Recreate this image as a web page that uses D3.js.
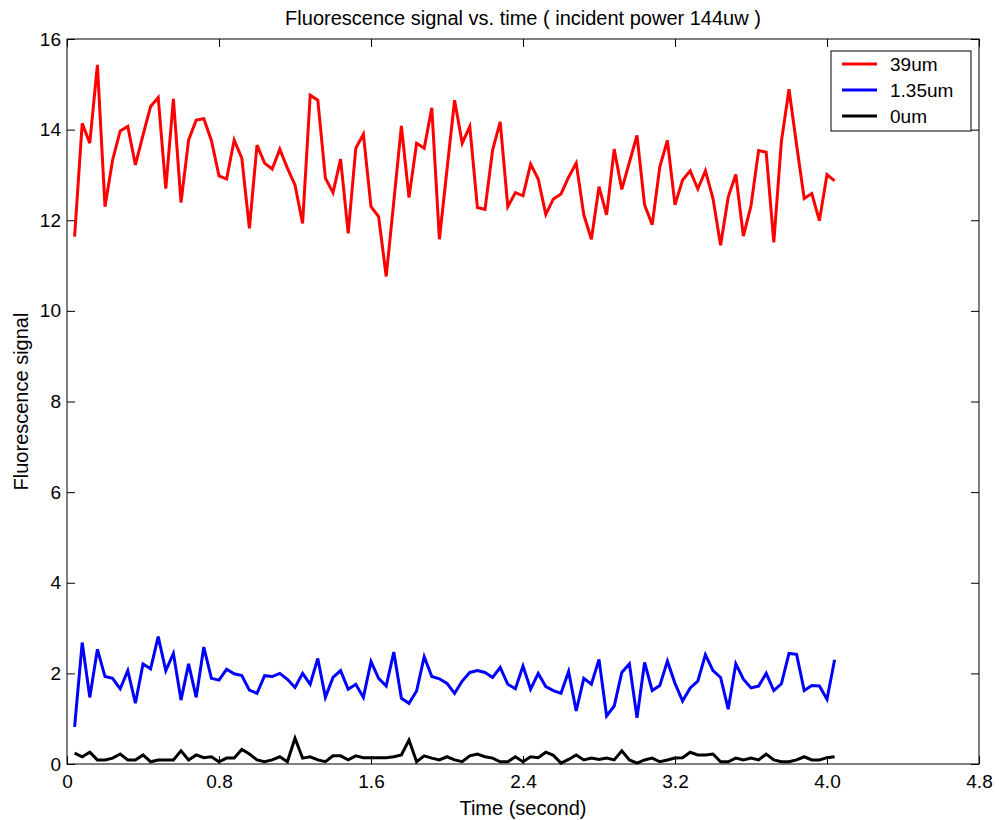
<!DOCTYPE html>
<html>
<head>
<meta charset="utf-8">
<script src="https://cdn.jsdelivr.net/npm/d3@7"></script>
<style>
  body { margin: 0; background: #fff; }
  svg text { font-family: "Liberation Sans", Arial, sans-serif; fill: #000; }
</style>
</head>
<body>
<svg id="chart" width="999" height="820"></svg>
<script>
// Fluorescence signal sampled every 0.04 s for three probe depths
const sampleStep = 0.04;
const sampleCount = 101;

const signal39um = [
  11.64, 14.14, 13.70, 15.43, 12.30, 13.33, 13.97, 14.07, 13.22, 13.88,
  14.51, 14.71, 12.70, 14.68, 12.39, 13.77, 14.21, 14.24, 13.76, 12.98,
  12.91, 13.77, 13.37, 11.82, 13.66, 13.26, 13.13, 13.57, 13.15, 12.78,
  11.93, 14.76, 14.65, 12.93, 12.61, 13.35, 11.71, 13.59, 13.90, 12.30,
  12.08, 10.76, 12.41, 14.08, 12.50, 13.70, 13.59, 14.48, 11.58, 13.12,
  14.65, 13.70, 14.07, 12.28, 12.24, 13.55, 14.17, 12.30, 12.61, 12.54,
  13.24, 12.91, 12.13, 12.47, 12.58, 12.95, 13.26, 12.12, 11.58, 12.74,
  12.12, 13.57, 12.68, 13.28, 13.87, 12.34, 11.90, 13.18, 13.76, 12.34,
  12.89, 13.09, 12.69, 13.09, 12.48, 11.45, 12.51, 13.01, 11.65, 12.32,
  13.54, 13.50, 11.51, 13.74, 14.89, 13.66, 12.48, 12.59, 11.99, 13.01,
  12.87
];

const signal135um = [
  0.82, 2.68, 1.47, 2.53, 1.93, 1.89, 1.66, 2.06, 1.34, 2.21,
  2.10, 2.81, 2.06, 2.44, 1.41, 2.21, 1.47, 2.58, 1.89, 1.85,
  2.09, 1.99, 1.95, 1.63, 1.56, 1.95, 1.93, 2.00, 1.87, 1.69,
  2.00, 1.76, 2.33, 1.47, 1.91, 2.06, 1.65, 1.76, 1.47, 2.26,
  1.89, 1.72, 2.47, 1.45, 1.34, 1.61, 2.37, 1.93, 1.88, 1.78,
  1.56, 1.83, 2.02, 2.06, 2.02, 1.91, 2.13, 1.76, 1.66, 2.16,
  1.65, 2.00, 1.71, 1.62, 1.56, 2.04, 1.17, 1.89, 1.76, 2.31,
  1.06, 1.28, 2.02, 2.21, 1.02, 2.24, 1.62, 1.73, 2.27, 1.78,
  1.39, 1.68, 1.83, 2.41, 2.06, 1.91, 1.21, 2.21, 1.87, 1.68,
  1.72, 2.00, 1.62, 1.77, 2.44, 2.42, 1.62, 1.73, 1.72, 1.43,
  2.30
];

const signal0um = [
  0.24, 0.16, 0.26, 0.09, 0.09, 0.13, 0.22, 0.09, 0.09, 0.20,
  0.05, 0.09, 0.09, 0.09, 0.29, 0.09, 0.20, 0.14, 0.16, 0.05,
  0.13, 0.13, 0.32, 0.22, 0.09, 0.05, 0.09, 0.16, 0.05, 0.57,
  0.13, 0.16, 0.09, 0.05, 0.18, 0.18, 0.09, 0.18, 0.14, 0.14,
  0.14, 0.14, 0.16, 0.20, 0.53, 0.05, 0.18, 0.13, 0.09, 0.16,
  0.09, 0.05, 0.18, 0.22, 0.16, 0.13, 0.05, 0.05, 0.16, 0.05,
  0.16, 0.14, 0.26, 0.19, 0.02, 0.10, 0.20, 0.09, 0.13, 0.10,
  0.13, 0.09, 0.29, 0.09, 0.02, 0.09, 0.13, 0.05, 0.09, 0.13,
  0.14, 0.26, 0.20, 0.20, 0.22, 0.05, 0.05, 0.13, 0.09, 0.13,
  0.09, 0.22, 0.09, 0.05, 0.05, 0.09, 0.16, 0.09, 0.09, 0.14,
  0.16
];

const seriesNames = ["39um", "1.35um", "0um"];
const seriesColors = ["#ff0000", "#0000ff", "#000000"];
const xTicks = [0, 0.8, 1.6, 2.4, 3.2, 4.0, 4.8];
const xTickLabels = ["0", "0.8", "1.6", "2.4", "3.2", "4.0", "4.8"];
const yTicks = [0, 2, 4, 6, 8, 10, 12, 14, 16];

const timeValues = d3.range(sampleCount).map(i => +((i + 1) * sampleStep).toFixed(2));
const seriesData = [signal39um, signal135um, signal0um];

const svg = d3.select("#chart");
const plotLeft = 67, plotRight = 979, plotTop = 39, plotBottom = 764;

const x = d3.scaleLinear().domain([0, 4.8]).range([plotLeft, plotRight]);
const y = d3.scaleLinear().domain([0, 16]).range([plotBottom, plotTop]);

const tickFont = 19;
const labelFont = 20;
const tickLen = 8;

// Data lines
const line = d3.line().x((d, i) => x(timeValues[i])).y(d => y(d));
seriesData.forEach((vals, k) => {
  svg.append("path")
    .datum(vals)
    .attr("d", line)
    .attr("fill", "none")
    .attr("stroke", seriesColors[k])
    .attr("stroke-width", 3)
    .attr("stroke-linejoin", "miter");
});

// Axes with inward ticks on all four sides
const axisStyle = g => {
  g.select(".domain").remove();
  g.selectAll(".tick line").attr("stroke", "#000").attr("stroke-width", 1);
  g.selectAll(".tick text").attr("font-size", tickFont).attr("font-family", "Liberation Sans, Arial, sans-serif");
};

svg.append("g")
  .attr("transform", `translate(0,${plotBottom})`)
  .call(d3.axisBottom(x).tickValues(xTicks).tickFormat((d, i) => xTickLabels[i])
    .tickSizeInner(-tickLen).tickSizeOuter(0).tickPadding(11))
  .call(axisStyle);

svg.append("g")
  .attr("transform", `translate(0,${plotTop})`)
  .call(d3.axisTop(x).tickValues(xTicks).tickFormat("").tickSizeInner(-tickLen).tickSizeOuter(0))
  .call(axisStyle);

svg.append("g")
  .attr("transform", `translate(${plotLeft},0)`)
  .call(d3.axisLeft(y).tickValues(yTicks).tickFormat(d3.format("d"))
    .tickSizeInner(-tickLen).tickSizeOuter(0).tickPadding(6))
  .call(axisStyle);

svg.append("g")
  .attr("transform", `translate(${plotRight},0)`)
  .call(d3.axisRight(y).tickValues(yTicks).tickFormat("").tickSizeInner(-tickLen).tickSizeOuter(0))
  .call(axisStyle);

// Plot frame
svg.append("rect")
  .attr("x", plotLeft).attr("y", plotTop)
  .attr("width", plotRight - plotLeft).attr("height", plotBottom - plotTop)
  .attr("fill", "none").attr("stroke", "#000").attr("stroke-width", 1);

// Title and axis labels
svg.append("text")
  .attr("x", (plotLeft + plotRight) / 2).attr("y", 25)
  .attr("text-anchor", "middle").attr("font-size", labelFont)
  .text("Fluorescence signal vs. time ( incident power 144uw )");

svg.append("text")
  .attr("x", (plotLeft + plotRight) / 2).attr("y", 815)
  .attr("text-anchor", "middle").attr("font-size", labelFont)
  .text("Time (second)");

svg.append("text")
  .attr("transform", `translate(28,${(plotTop + plotBottom) / 2}) rotate(-90)`)
  .attr("text-anchor", "middle").attr("font-size", labelFont)
  .text("Fluorescence signal");

// Legend
const legend = svg.append("g").attr("transform", "translate(831,51)");
legend.append("rect")
  .attr("width", 140).attr("height", 80)
  .attr("fill", "#fff").attr("stroke", "#000").attr("stroke-width", 1);
seriesNames.forEach((name, k) => {
  const ly = 13 + k * 26;
  legend.append("line")
    .attr("x1", 11).attr("x2", 46).attr("y1", ly).attr("y2", ly)
    .attr("stroke", seriesColors[k]).attr("stroke-width", 3);
  legend.append("text")
    .attr("x", 59).attr("y", ly + 7).attr("font-size", tickFont)
    .text(name);
});
</script>
</body>
</html>
